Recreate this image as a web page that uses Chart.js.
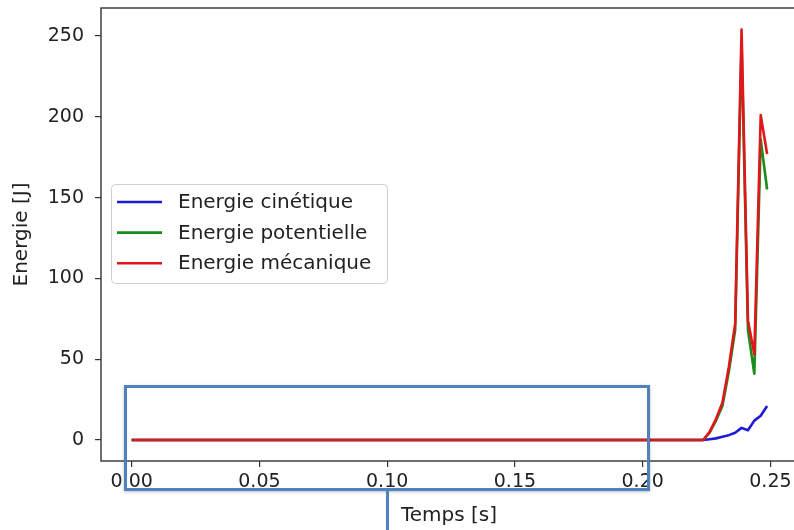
<!DOCTYPE html>
<html>
<head>
<meta charset="utf-8">
<script src="https://cdn.jsdelivr.net/npm/chart.js@4/dist/chart.umd.min.js"></script>
<style>
  html, body { margin: 0; padding: 0; background: #fff; overflow: hidden; width: 794px; height: 530px; }
  #wrap { position: relative; width: 794px; height: 530px; overflow: hidden; }
  canvas { position: absolute; left: 0; top: 0; }
  .callout { position: absolute; box-sizing: border-box; border: 3px solid #4f81bd; box-shadow: 0 1px 3px rgba(0,0,0,0.25); }
  .stem { position: absolute; background: #4f81bd; }
</style>
</head>
<body>
<div id="wrap">
  <canvas id="c" width="800" height="530"></canvas>
  <div class="callout" style="left:124px; top:385px; width:526px; height:106px;"></div>
  <div class="stem" style="left:386px; top:491px; width:3px; height:39px;"></div>
</div>
<script>
// Simulation samples: time (s) and the three energy curves (J)
const times      = [0, 0.2237, 0.2262, 0.2287, 0.2312, 0.2337, 0.2362, 0.2387, 0.2412, 0.2437, 0.2462, 0.2487];
const kinetic    = [0, 0,      0.5,    1,      2,      3,      4.5,    7.5,    6,      12,     15,     21];
const potential  = [0, 0,      4.5,    12,     21,     42,     68,     246,    68,     41,     186,    155];
const mechanical = [0, 0,      5,      13,     23,     45,     72,     254,    74,     53,     201,    177];

const seriesLabels = ['Energie cinétique', 'Energie potentielle', 'Energie mécanique'];
const seriesColors = ['#1c1cd6', '#1a8c1a', '#e0161b'];

const xTicks = [0, 0.05, 0.10, 0.15, 0.20, 0.25];
const yTicks = [0, 50, 100, 150, 200, 250];

const FONT = 'DejaVu Sans';
const TEXT = '#222222';
const AXIS = '#333333';

const toPoints = vals => times.map((t, i) => ({ x: t, y: vals[i] }));

function lineSet(idx, vals) {
  return {
    label: seriesLabels[idx],
    data: toPoints(vals),
    borderColor: seriesColors[idx],
    backgroundColor: seriesColors[idx],
    borderWidth: 2.6,
    pointRadius: 0,
    tension: 0,
    borderJoinStyle: 'round',
    order: 2 - idx   // later series drawn on top
  };
}

// Frame around the plotting area and an in-plot legend
const framePlugin = {
  id: 'frame',
  afterDatasetsDraw(chart) {
    const { ctx, chartArea: a } = chart;
    ctx.save();
    ctx.strokeStyle = AXIS;
    ctx.lineWidth = 1.4;
    ctx.strokeRect(a.left, a.top, a.right - a.left, a.bottom - a.top);
    ctx.restore();
  }
};

const legendPlugin = {
  id: 'inlineLegend',
  afterDraw(chart) {
    const { ctx } = chart;
    const bx = 111.5, by = 184.5, bw = 276, bh = 99, r = 4;
    ctx.save();
    ctx.beginPath();
    ctx.roundRect(bx, by, bw, bh, r);
    ctx.fillStyle = 'rgba(255,255,255,0.85)';
    ctx.fill();
    ctx.strokeStyle = '#cfcfcf';
    ctx.lineWidth = 1;
    ctx.stroke();
    ctx.font = '20px "' + FONT + '"';
    ctx.textBaseline = 'middle';
    ctx.textAlign = 'left';
    chart.data.datasets.forEach((ds, i) => {
      const y = 202 + i * 30.6;
      ctx.beginPath();
      ctx.moveTo(117, y);
      ctx.lineTo(162, y);
      ctx.strokeStyle = ds.borderColor;
      ctx.lineWidth = 2.6;
      ctx.stroke();
      ctx.fillStyle = TEXT;
      ctx.fillText(ds.label, 178, y + 1);
    });
    ctx.restore();
  }
};

new Chart(document.getElementById('c'), {
  type: 'line',
  data: {
    datasets: [lineSet(0, kinetic), lineSet(1, potential), lineSet(2, mechanical)]
  },
  options: {
    responsive: false,
    animation: false,
    devicePixelRatio: 1,
    layout: { padding: { left: 0, top: 8, right: 3, bottom: 0 } },
    plugins: { legend: { display: false }, tooltip: { enabled: false } },
    scales: {
      x: {
        type: 'linear',
        min: -0.012,
        max: 0.2604,
        afterFit: s => { s.height = 69; s.paddingLeft = 0; s.paddingRight = 0; },
        afterBuildTicks: s => { s.ticks = xTicks.map(v => ({ value: v })); },
        border: { display: false },
        grid: { display: true, drawOnChartArea: false, drawTicks: true, tickLength: 6, color: AXIS, lineWidth: 1.2 },
        ticks: {
          padding: 4,
          color: TEXT,
          font: { family: FONT, size: 19 },
          maxRotation: 0,
          callback: v => Number(v).toFixed(2)
        },
        title: {
          display: true,
          text: 'Temps [s]',
          color: TEXT,
          font: { family: FONT, size: 20 },
          padding: { top: 0, bottom: 2 }
        }
      },
      y: {
        type: 'linear',
        min: -13,
        max: 267.3,
        afterFit: s => { s.width = 101; s.paddingTop = 0; s.paddingBottom = 0; },
        afterBuildTicks: s => { s.ticks = yTicks.map(v => ({ value: v })); },
        border: { display: false },
        grid: { display: true, drawOnChartArea: false, drawTicks: true, tickLength: 6, color: AXIS, lineWidth: 1.2 },
        ticks: {
          padding: 11,
          color: TEXT,
          font: { family: FONT, size: 19 },
          callback: v => String(v)
        },
        title: {
          display: true,
          text: 'Energie [J]',
          color: TEXT,
          font: { family: FONT, size: 20 },
          padding: { top: 10, bottom: 0 }
        }
      }
    }
  },
  plugins: [framePlugin, legendPlugin]
});
</script>
</body>
</html>
